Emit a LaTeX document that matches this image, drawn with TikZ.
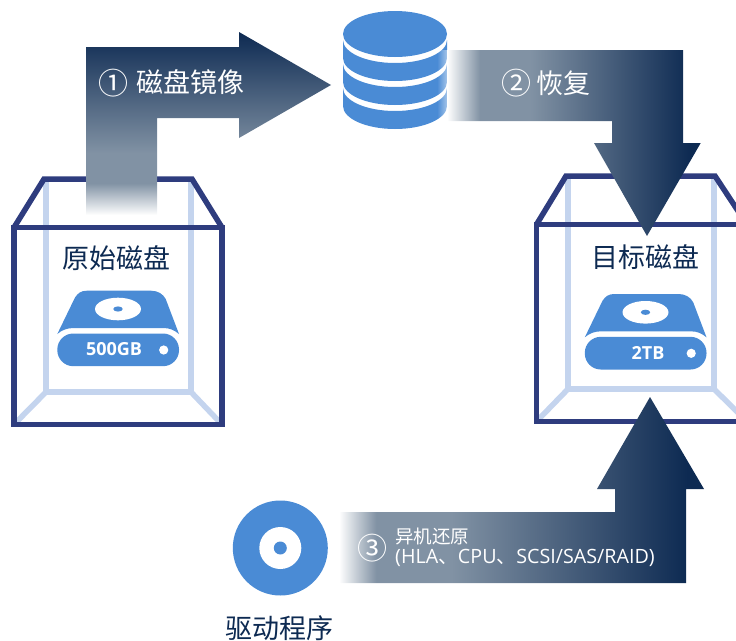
\documentclass[tikz,border=0pt]{standalone}
\usepackage{fontspec}
\setmainfont{Open Sans}
\newfontfamily\cjk{Noto Sans CJK SC}
\newfontfamily\latinf{Open Sans}
\definecolor{blueA}{HTML}{4A8BD5}
\definecolor{boxdark}{HTML}{2E3C7E}
\definecolor{boxlight}{HTML}{C4D4EE}
\definecolor{navy}{HTML}{0D2A52}
\definecolor{midg}{HTML}{8192A4}
\pgfdeclareverticalshading{arrowone}{100bp}{color(0bp)=(white); color(25bp)=(white); color(33.7bp)=(midg); color(41.9bp)=(midg); color(75bp)=(navy); color(100bp)=(navy)}
\pgfdeclarehorizontalshading{arrowtwo}{100bp}{color(0bp)=(white); color(25bp)=(white); color(31.5bp)=(midg); color(41.4bp)=(midg); color(72.9bp)=(navy); color(100bp)=(navy)}
\pgfdeclarehorizontalshading{arrowthree}{100bp}{color(0bp)=(white); color(25bp)=(white); color(30.1bp)=(midg); color(40.4bp)=(midg); color(72.8bp)=(navy); color(100bp)=(navy)}
\tikzset{
  boxfront/.style={draw=boxdark,line width=5.5pt,line join=miter},
  boxback/.style={draw=boxlight,line width=5.5pt},
  boxcaption/.style={font=\cjk\fontsize{27}{27}\selectfont,text=navy,inner sep=0pt},
  wlabel/.style={font=\cjk\fontsize{27}{27}\selectfont,text=white,inner sep=0pt},
  wnum/.style={font=\cjk\fontsize{30}{30}\selectfont,text=white,inner sep=0pt},
  wsmall/.style={text=white,inner sep=0pt,anchor=west},
  sizetext/.style={font=\latinf\bfseries\fontsize{18}{18}\selectfont,text=white,inner sep=0pt},
}
\newcommand{\hddicon}{%
  \fill[blueA] (57.3,334) -- (75,297.5) .. controls (78,293) and (81,290.7) .. (87,290.7)
     -- (151,290.7) .. controls (158,290.7) and (163,294) .. (165.7,299) -- (179,334)
     .. controls (174,330) and (170,328) .. (163,328) -- (74,328) .. controls (67,328) and (62,330) .. (57.3,334) -- cycle;
  \fill[blueA,rounded corners=16pt] (57.3,333.5) rectangle (179,366.2);
  \fill[white] (118,309) ellipse [x radius=23,y radius=11.3];
  \fill[blueA] (118,309) ellipse [x radius=4.7,y radius=2.6];
  \fill[white] (163.7,350) circle (4.6);
}
\begin{document}
\begin{tikzpicture}[x=1pt,y=-1pt]
\useasboundingbox (0,0) rectangle (736,640);
\clip (0,0) rectangle (736,640);
% source box
\draw[boxback] (46,179) -- (46,392) -- (191,392) -- (191,179);
\draw[boxback] (46,392) -- (14,424.5);
\draw[boxback] (191,392) -- (222,424.5);
\draw[boxfront] (14,227.5) rectangle (222,424.5);
\draw[boxfront] (14,227.5) -- (44,179) -- (192,179) -- (222,227.5);
% target box
\draw[boxback] (568,176) -- (568,389) -- (714,389) -- (714,176);
\draw[boxback] (568,389) -- (536.5,421.5);
\draw[boxback] (714,389) -- (747,421.5);
\draw[boxfront] (536.5,224.5) rectangle (747,421.5);
\draw[boxfront] (536.5,224.5) -- (566,176) -- (715,176) -- (747,224.5);
% database
\fill[blueA] (395,34) ellipse [x radius=52,y radius=23];
\foreach \t in {40,64,88}{
  \fill[blueA] (343,\t) arc [start angle=180,end angle=360,x radius=52,y radius=-23]
     -- ++(0,18) arc [start angle=360,end angle=180,x radius=52,y radius=-23] -- cycle;
}
\foreach \k in {0,...,9}{
  \fill[white,opacity=0.05*\k] (437+\k,50) rectangle (438+\k,121);
}
% arrows
\path[shading=arrowone] (86,47) -- (239,47) -- (239,32) -- (331,85) -- (239,138) -- (239,118) -- (157,118) -- (157,215) -- (86,215) -- cycle;
\path[shading=arrowtwo] (447,50) -- (683,50) -- (683,143) -- (700.7,143) -- (647,236) -- (594,143) -- (612,143) -- (612,121) -- (447,121) -- cycle;
\path[shading=arrowthree] (339,512) -- (615,512) -- (615,489) -- (597,489) -- (650,397) -- (704,489) -- (686,489) -- (686,583) -- (339,583) -- cycle;
% disks
\hddicon
\begin{scope}[shift={(527.5,3.3)}]\hddicon\end{scope}
\node[sizetext] (s500) at (114,349.5) {500GB};
\node[sizetext] (s2tb) at (648,352.5) {2TB};
% driver disc
\fill[blueA] (280.3,548) circle (47.5);
\fill[white] (280.3,548) circle (21);
\fill[blueA] (280.3,548) circle (6.5);
% labels
\node[boxcaption] (src) at (116,258) {原始磁盘};
\node[boxcaption] (dst) at (645,257) {目标磁盘};
\node[boxcaption] (drv) at (279.5,628) {驱动程序};
\node[wnum] (n1) at (113,83) {①};
\node[wlabel] (t1) at (190,82) {磁盘镜像};
\node[wnum] (n2) at (516,83) {②};
\node[wlabel] (t2) at (563,83) {恢复};
\node[wnum] (n3) at (372,548) {③};
\node[wsmall,font=\cjk\fontsize{18.5}{18.5}\selectfont] (t3) at (395,536.5) {异机还原};
\node[wsmall,font=\latinf\fontsize{19.7}{19.7}\selectfont] (t4) at (395,558) {(HLA{\cjk 、}CPU{\cjk 、}SCSI/SAS/RAID)};
\end{tikzpicture}
\end{document}
